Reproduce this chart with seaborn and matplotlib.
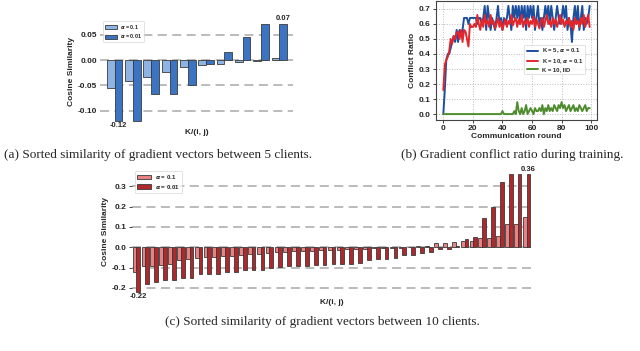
# plot.py
# Gradient similarity / conflict figure: 3 panels + captions

import numpy as np
import pandas as pd
import matplotlib
matplotlib.use('Agg')
import matplotlib.pyplot as plt
import seaborn as sns

# ── (a) sorted cosine similarity, 5 clients (10 pairs) ───────────
sim5_a01 = [-0.055, -0.042, -0.034, -0.024, -0.014,
            -0.010, -0.007, -0.003, -0.001, 0.005]
sim5_a001 = [-0.120, -0.120, -0.067, -0.066, -0.049,
             -0.008, 0.016, 0.045, 0.071, 0.072]

# ── (c) sorted cosine similarity, 10 clients (45 pairs) ──────────
sim10_a01 = [-0.120, -0.090, -0.090, -0.085, -0.080, -0.065, -0.060, -0.055, -0.050,
             -0.050, -0.045, -0.045, -0.040, -0.035, -0.035, -0.030, -0.025, -0.025,
             -0.020, -0.020, -0.018, -0.015, -0.015, -0.012, -0.010, -0.010, -0.008,
             -0.006, -0.005, -0.004, -0.003, 0.002, 0.004, 0.008, 0.020, 0.020,
             0.028, 0.033, 0.033, 0.044, 0.044, 0.055, 0.113, 0.113, 0.150]
sim10_a001 = [-0.220, -0.180, -0.170, -0.160, -0.160, -0.150, -0.150, -0.130, -0.130,
              -0.130, -0.120, -0.120, -0.110, -0.110, -0.110, -0.100, -0.095, -0.090,
              -0.090, -0.090, -0.085, -0.085, -0.080, -0.080, -0.080, -0.078, -0.062,
              -0.059, -0.059, -0.054, -0.038, -0.038, -0.026, -0.021, -0.010, -0.010,
              0.005, 0.040, 0.050, 0.142, 0.199, 0.320, 0.359, 0.359, 0.360]

alpha_labels = ['$\\alpha$ = 0.1', '$\\alpha$ = 0.01']

# ── (b) conflict ratio per communication round ───────────────────
rounds = np.arange(100)
k5_a01 = [0.00, 0.16, 0.36, 0.40, 0.40, 0.44, 0.48, 0.52, 0.48, 0.56,
          0.48, 0.56, 0.52, 0.56, 0.64, 0.64, 0.64, 0.60, 0.64, 0.64,
          0.64, 0.64, 0.64, 0.60, 0.64, 0.64, 0.60, 0.64, 0.72, 0.56,
          0.72, 0.64, 0.56, 0.64, 0.60, 0.56, 0.64, 0.72, 0.60, 0.64,
          0.56, 0.64, 0.60, 0.64, 0.72, 0.64, 0.56, 0.72, 0.64, 0.72,
          0.64, 0.72, 0.60, 0.72, 0.64, 0.72, 0.56, 0.72, 0.64, 0.72,
          0.64, 0.72, 0.56, 0.64, 0.72, 0.60, 0.64, 0.56, 0.64, 0.72,
          0.64, 0.72, 0.60, 0.72, 0.64, 0.56, 0.64, 0.72, 0.64, 0.60,
          0.64, 0.72, 0.64, 0.72, 0.56, 0.64, 0.60, 0.48, 0.64, 0.72,
          0.60, 0.72, 0.56, 0.64, 0.72, 0.56, 0.64, 0.60, 0.64, 0.72]
k10_a01 = [0.16, 0.33, 0.36, 0.38, 0.42, 0.50, 0.47, 0.52, 0.50, 0.54,
           0.55, 0.50, 0.56, 0.48, 0.56, 0.55, 0.50, 0.45, 0.60, 0.58,
           0.58, 0.60, 0.58, 0.66, 0.60, 0.56, 0.63, 0.58, 0.66, 0.60,
           0.62, 0.58, 0.66, 0.60, 0.62, 0.57, 0.60, 0.64, 0.58, 0.62,
           0.56, 0.60, 0.63, 0.58, 0.62, 0.60, 0.66, 0.59, 0.62, 0.64,
           0.58, 0.63, 0.60, 0.66, 0.58, 0.62, 0.60, 0.64, 0.58, 0.62,
           0.60, 0.65, 0.58, 0.63, 0.60, 0.57, 0.62, 0.64, 0.58, 0.62,
           0.66, 0.60, 0.62, 0.58, 0.64, 0.60, 0.63, 0.58, 0.62, 0.66,
           0.60, 0.63, 0.58, 0.62, 0.60, 0.64, 0.58, 0.62, 0.56, 0.64,
           0.60, 0.62, 0.58, 0.64, 0.60, 0.66, 0.58, 0.63, 0.66, 0.58]
k10_iid = [0.00, 0.00, 0.00, 0.00, 0.00, 0.00, 0.00, 0.00, 0.00, 0.00,
           0.00, 0.00, 0.00, 0.00, 0.00, 0.00, 0.00, 0.00, 0.00, 0.00,
           0.00, 0.00, 0.00, 0.00, 0.00, 0.00, 0.00, 0.00, 0.00, 0.00,
           0.00, 0.00, 0.00, 0.00, 0.00, 0.00, 0.00, 0.00, 0.00, 0.00,
           0.02, 0.00, 0.00, 0.00, 0.00, 0.00, 0.00, 0.00, 0.02, 0.00,
           0.08, 0.02, 0.00, 0.04, 0.00, 0.02, 0.06, 0.00, 0.02, 0.04,
           0.02, 0.00, 0.04, 0.02, 0.02, 0.04, 0.02, 0.06, 0.00, 0.04,
           0.02, 0.06, 0.02, 0.04, 0.02, 0.06, 0.04, 0.02, 0.06, 0.04,
           0.08, 0.04, 0.06, 0.02, 0.04, 0.06, 0.02, 0.04, 0.06, 0.02,
           0.04, 0.02, 0.06, 0.04, 0.02, 0.04, 0.06, 0.02, 0.04, 0.04]
line_labels = ['K = 5, $\\alpha$ = 0.1', 'K = 10, $\\alpha$ = 0.1', 'K = 10, IID']

captions = ['(a) Sorted similarity of gradient vectors between 5 clients.',
            '(b) Gradient conflict ratio during training.',
            '(c) Sorted similarity of gradient vectors between 10 clients.']

sns.set_style('white')
plt.rcParams['font.family'] = ['Liberation Sans', 'DejaVu Sans']
plt.rcParams['font.weight'] = 'bold'
plt.rcParams['axes.labelweight'] = 'bold'
plt.rcParams['axes.unicode_minus'] = False


def sim_bars(ax, a01, a001, palette, fmt, leg_size):
    """Paired sorted similarity bars"""
    n = len(a01)
    df = pd.DataFrame({
        'pair': list(range(n)) * 2,
        'alpha': [alpha_labels[0]] * n + [alpha_labels[1]] * n,
        'sim': a01 + a001,
    })
    sns.barplot(data=df, x='pair', y='sim', hue='alpha', palette=palette,
                width=0.85, edgecolor='#3a3a3a', linewidth=0.6,
                saturation=1, ax=ax)
    labs = [''] * n
    labs[0] = fmt.format(a001[0])
    labs[-1] = fmt.format(a001[-1])
    ax.bar_label(ax.containers[1], labels=labs, fontsize=5.5,
                 fontweight='bold', padding=1)
    ax.set_axisbelow(True)
    ax.yaxis.grid(True, linestyle=(0, (5, 3)), color='#b5b5b5', linewidth=1.3)
    ax.set_xticks([])
    sns.despine(ax=ax, left=True, bottom=True)
    ax.set_xlabel('K/(i, j)', fontsize=6, labelpad=3)
    ax.set_ylabel('Cosine Similarity', fontsize=6, labelpad=2)
    ax.tick_params(axis='y', labelsize=6, length=0, pad=2)
    leg = ax.legend(loc='upper left', fontsize=leg_size, frameon=True,
                    handlelength=2.3, handleheight=0.8, borderpad=0.35,
                    labelspacing=0.25, handletextpad=0.6,
                    bbox_to_anchor=(0.0, 1.0))
    leg.get_frame().set_linewidth(0.5)


fig = plt.figure(figsize=(6.4, 3.51), dpi=100)

# ── (a) ──────────────────────────────────────────────────────────
ax_a = fig.add_axes([100 / 640, 1 - 125 / 351, 193 / 640, 106.5 / 351])
sim_bars(ax_a, sim5_a01, sim5_a001, ['#8fb4e3', '#3a74c2'], '{:.2f}', 3.9)
ax_a.set_xlim(-0.8, 9.75)
ax_a.set_ylim(-0.128, 0.082)
ax_a.set_yticks([-0.10, -0.05, 0.00, 0.05])
ax_a.set_yticklabels(['-0.10', '-0.05', '0.00', '0.05'])

# ── (b) ──────────────────────────────────────────────────────────
ax_b = fig.add_axes([436 / 640, 1 - 119.5 / 351, 161 / 640, 119 / 351])
sns.lineplot(x=rounds, y=k5_a01, color='#1c4fa0', linewidth=1.4,
             label=line_labels[0], ax=ax_b)
sns.lineplot(x=rounds, y=k10_a01, color='#e3262b', linewidth=1.4,
             label=line_labels[1], ax=ax_b)
sns.lineplot(x=rounds, y=k10_iid, color='#4e8c2e', linewidth=1.4,
             label=line_labels[2], ax=ax_b)
ax_b.grid(True, linestyle=':', color='#bbbbbb', linewidth=0.7)
for s in ax_b.spines.values():
    s.set_color('#444444')
    s.set_linewidth(0.8)
ax_b.set_xticks([0, 20, 40, 60, 80, 100])
ax_b.set_yticks([0.0, 0.1, 0.2, 0.3, 0.4, 0.5, 0.6, 0.7])
ax_b.tick_params(labelsize=6, length=2.5, width=0.6, pad=1.5,
                 bottom=True, left=True)
ax_b.set_xlabel('Communication round', fontsize=6, labelpad=0.5)
ax_b.set_ylabel('Conflict Ratio', fontsize=6, labelpad=2)
leg_b = ax_b.legend(loc='center right', fontsize=4.2, frameon=True,
                    handlelength=2.0, borderpad=0.35, labelspacing=0.25,
                    handletextpad=0.6, bbox_to_anchor=(0.945, 0.505))
leg_b.get_frame().set_linewidth(0.5)

# ── (c) ──────────────────────────────────────────────────────────
ax_c = fig.add_axes([132 / 640, 1 - 295 / 351, 399 / 640, 127 / 351])
sim_bars(ax_c, sim10_a01, sim10_a001, ['#e98282', '#b0282c'], '{:.2f}', 4.4)
ax_c.set_xlim(-0.5, 44.5)
ax_c.set_ylim(-0.235, 0.39)
ax_c.set_yticks([-0.2, -0.1, 0.0, 0.1, 0.2, 0.3])
ax_c.set_yticklabels(['-0.2', '-0.1', '0.0', '0.1', '0.2', '0.3'])
ax_c.tick_params(axis='y', length=2, width=0.6, left=True)

# ── captions ─────────────────────────────────────────────────────
cap_font = dict(fontsize=9.5, family=['Liberation Serif', 'DejaVu Serif'],
                fontweight='normal', ha='center', va='center')
fig.text(158 / 640, 1 - 155 / 351, captions[0], **cap_font)
fig.text(512 / 640, 1 - 155 / 351, captions[1], **cap_font)
fig.text(322 / 640, 1 - 322 / 351, captions[2], **cap_font)

fig.savefig('out.png', dpi=100)
plt.close(fig)
